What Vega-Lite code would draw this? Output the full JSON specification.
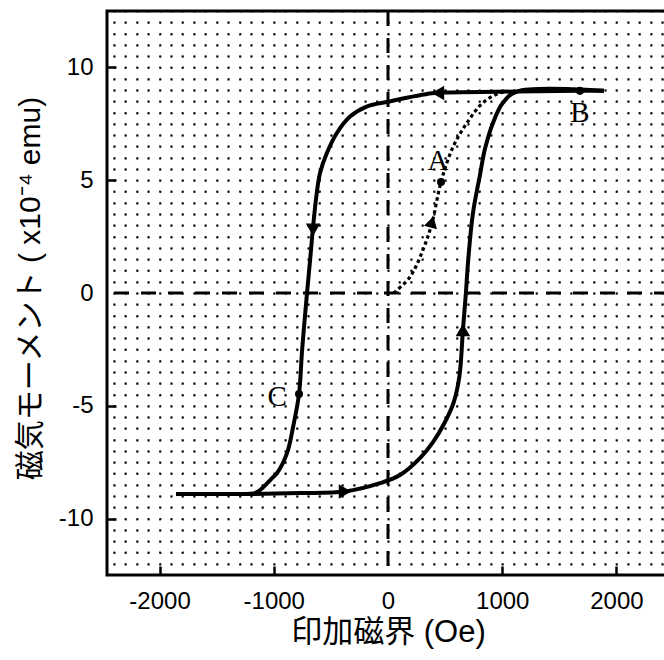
{
  "$schema": "https://vega.github.io/schema/vega-lite/v6.json",
  "width": 562,
  "height": 564,
  "autosize": {"type": "none"},
  "padding": {"left": 107, "top": 11, "right": 0, "bottom": 85},
  "background": "white",
  "config": {
    "view": {"stroke": "#000", "strokeWidth": 3},
    "font": "Liberation Sans",
    "axis": {"labelOverlap": false, "labelFlush": false, "labelBound": false}
  },
  "resolve": {"axis": {"x": "independent", "y": "independent"}},
  "datasets": {
    "loop": [
      {"branch": "down", "x": -1855, "y": -8.91},
      {"branch": "down", "x": -1295, "y": -8.91},
      {"branch": "down", "x": -1181, "y": -8.89},
      {"branch": "down", "x": -1137, "y": -8.8},
      {"branch": "down", "x": -1006, "y": -8.16},
      {"branch": "down", "x": -971, "y": -7.98},
      {"branch": "down", "x": -884, "y": -7.1},
      {"branch": "down", "x": -831, "y": -5.94},
      {"branch": "down", "x": -779, "y": -4.48},
      {"branch": "down", "x": -752, "y": -2.53},
      {"branch": "down", "x": -709, "y": 0},
      {"branch": "down", "x": -682, "y": 1.46},
      {"branch": "down", "x": -656, "y": 2.93},
      {"branch": "down", "x": -624, "y": 4.42},
      {"branch": "down", "x": -595, "y": 5.32},
      {"branch": "down", "x": -536, "y": 6.19},
      {"branch": "down", "x": -449, "y": 7.08},
      {"branch": "down", "x": -332, "y": 7.82},
      {"branch": "down", "x": -187, "y": 8.26},
      {"branch": "down", "x": 3, "y": 8.48},
      {"branch": "down", "x": 385, "y": 8.85},
      {"branch": "down", "x": 542, "y": 8.89},
      {"branch": "down", "x": 1129, "y": 8.93},
      {"branch": "down", "x": 1680, "y": 8.96},
      {"branch": "down", "x": 1890, "y": 8.96},
      {"branch": "up", "x": -1855, "y": -8.91},
      {"branch": "up", "x": -1181, "y": -8.91},
      {"branch": "up", "x": -770, "y": -8.87},
      {"branch": "up", "x": -376, "y": -8.8},
      {"branch": "up", "x": -70, "y": -8.43},
      {"branch": "up", "x": 105, "y": -8.07},
      {"branch": "up", "x": 280, "y": -7.32},
      {"branch": "up", "x": 394, "y": -6.61},
      {"branch": "up", "x": 499, "y": -5.72},
      {"branch": "up", "x": 575, "y": -4.85},
      {"branch": "up", "x": 625, "y": -3.7},
      {"branch": "up", "x": 656, "y": -1.64},
      {"branch": "up", "x": 682, "y": 0},
      {"branch": "up", "x": 700, "y": 1.33},
      {"branch": "up", "x": 744, "y": 3.55},
      {"branch": "up", "x": 805, "y": 5.23},
      {"branch": "up", "x": 849, "y": 6.39},
      {"branch": "up", "x": 919, "y": 7.54},
      {"branch": "up", "x": 1006, "y": 8.43},
      {"branch": "up", "x": 1129, "y": 8.93},
      {"branch": "up", "x": 1890, "y": 8.96}
    ],
    "initial": [
      {"x": 50, "y": 0},
      {"x": 192, "y": 0.71},
      {"x": 306, "y": 1.91},
      {"x": 385, "y": 3.1},
      {"x": 464, "y": 4.92},
      {"x": 569, "y": 6.47},
      {"x": 691, "y": 7.54},
      {"x": 831, "y": 8.43},
      {"x": 980, "y": 8.87},
      {"x": 1100, "y": 8.93}
    ],
    "arrows": [
      {"x": 437, "y": 8.87, "dir": "left"},
      {"x": -656, "y": 2.8, "dir": "down"},
      {"x": -376, "y": -8.8, "dir": "right"},
      {"x": 656, "y": -1.64, "dir": "up"}
    ],
    "arrowInit": [
      {"x": 385, "y": 3.15, "dir": "up"}
    ],
    "points": [
      {"name": "A", "x": 464, "y": 4.92, "lx": 437, "ly": 5.85},
      {"name": "B", "x": 1680, "y": 8.96, "lx": 1680, "ly": 7.98},
      {"name": "C", "x": -779, "y": -4.48, "lx": -971, "ly": -4.6}
    ],
    "zeroX": [{"x": 0}],
    "zeroY": [{"y": 0}]
  },
  "layer": [
    {
      "data": {"name": "zeroX"},
      "mark": {"type": "rule", "color": "#000", "strokeWidth": 3, "strokeDash": [15, 12]},
      "encoding": {
        "x": {
          "field": "x",
          "type": "quantitative",
          "scale": {"domain": [-2460, 2460], "nice": false, "zero": false},
          "axis": {
            "orient": "bottom",
            "title": null,
            "values": [-2400,-2300,-2200,-2100,-2000,-1900,-1800,-1700,-1600,-1500,-1400,-1300,-1200,-1100,-1000,-900,-800,-700,-600,-500,-400,-300,-200,-100,0,100,200,300,400,500,600,700,800,900,1000,1100,1200,1300,1400,1500,1600,1700,1800,1900,2000,2100,2200,2300,2400],
            "labels": false,
            "ticks": false,
            "domain": false,
            "grid": true,
            "gridDash": [2, 9.28],
            "gridDashOffset": 1,
            "gridColor": "#000",
            "gridOpacity": 0.8,
            "gridWidth": 1.8
          }
        }
      }
    },
    {
      "data": {"name": "zeroY"},
      "mark": {"type": "rule", "color": "#000", "strokeWidth": 3, "strokeDash": [15, 12]},
      "encoding": {
        "y": {
          "field": "y",
          "type": "quantitative",
          "scale": {"domain": [-12.5, 12.5], "nice": false, "zero": false},
          "axis": {
            "orient": "left",
            "title": null,
            "values": [-12,-11.5,-11,-10.5,-10,-9.5,-9,-8.5,-8,-7.5,-7,-6.5,-6,-5.5,-5,-4.5,-4,-3.5,-3,-2.5,-2,-1.5,-1,-0.5,0,0.5,1,1.5,2,2.5,3,3.5,4,4.5,5,5.5,6,6.5,7,7.5,8,8.5,9,9.5,10,10.5,11,11.5,12],
            "labels": false,
            "ticks": false,
            "domain": false,
            "grid": true,
            "gridDash": [2, 9.4228],
            "gridDashOffset": 5.566,
            "gridColor": "#000",
            "gridOpacity": 0.8,
            "gridWidth": 1.8
          }
        }
      }
    },
    {
      "data": {"name": "initial"},
      "mark": {"type": "line", "color": "#000", "strokeWidth": 3.2, "strokeDash": [3.5, 3], "interpolate": "catmull-rom"},
      "encoding": {
        "x": {
          "field": "x",
          "type": "quantitative",
          "axis": {
            "orient": "bottom",
            "title": "印加磁界 (Oe)",
            "values": [-2000, -1000, 0, 1000, 2000],
            "labelExpr": "'' + datum.value",
            "grid": false,
            "domain": false,
            "tickSize": -9,
            "tickWidth": 2.5,
            "tickColor": "#000",
            "tickOpacity": {"condition": {"test": "datum.value !== 0", "value": 1}, "value": 0},
            "labelFont": "Liberation Sans",
            "labelFontSize": 24,
            "labelColor": "#000",
            "labelPadding": 23,
            "titleFont": "Liberation Sans, Noto Sans CJK JP",
            "titleFontSize": 31,
            "titleFontWeight": "normal",
            "titleColor": "#000",
            "titleY": 57,
            "titleBaseline": "middle"
          }
        },
        "y": {
          "field": "y",
          "type": "quantitative",
          "axis": {
            "orient": "left",
            "title": "磁気モーメント ( x10⁻⁴ emu)",
            "values": [-10, -5, 0, 5, 10],
            "labelExpr": "'' + datum.value",
            "grid": false,
            "domain": false,
            "tickSize": -9,
            "tickWidth": 2.5,
            "tickColor": "#000",
            "tickOpacity": {"condition": {"test": "datum.value !== 0", "value": 1}, "value": 0},
            "labelFont": "Liberation Sans",
            "labelFontSize": 24,
            "labelColor": "#000",
            "labelPadding": 23,
            "titleFont": "Liberation Sans, Noto Sans CJK JP",
            "titleFontSize": 30,
            "titleFontWeight": "normal",
            "titleColor": "#000",
            "titleX": -77,
            "titleY": 277,
            "titleAngle": 270,
            "titleAlign": "center",
            "titleBaseline": "middle"
          }
        }
      }
    },
    {
      "data": {"name": "loop"},
      "mark": {"type": "line", "color": "#000", "strokeWidth": 4, "interpolate": "catmull-rom"},
      "encoding": {
        "x": {"field": "x", "type": "quantitative", "axis": null},
        "y": {"field": "y", "type": "quantitative", "axis": null},
        "detail": {"field": "branch"}
      }
    },
    {
      "data": {"name": "arrows"},
      "mark": {"type": "point", "filled": true, "color": "#000", "opacity": 1, "size": 210, "strokeWidth": 0},
      "encoding": {
        "x": {"field": "x", "type": "quantitative", "axis": null},
        "y": {"field": "y", "type": "quantitative", "axis": null},
        "shape": {
          "field": "dir",
          "type": "nominal",
          "scale": {"domain": ["left", "down", "right", "up"], "range": ["triangle-left", "triangle-down", "triangle-right", "triangle-up"]},
          "legend": null
        }
      }
    },
    {
      "data": {"name": "arrowInit"},
      "mark": {"type": "point", "filled": true, "color": "#000", "opacity": 1, "size": 180, "strokeWidth": 0, "shape": "triangle-up", "angle": 15},
      "encoding": {
        "x": {"field": "x", "type": "quantitative", "axis": null},
        "y": {"field": "y", "type": "quantitative", "axis": null}
      }
    },
    {
      "data": {"name": "points"},
      "mark": {"type": "point", "filled": true, "color": "#000", "opacity": 1, "size": 65, "shape": "circle"},
      "encoding": {
        "x": {"field": "x", "type": "quantitative", "axis": null},
        "y": {"field": "y", "type": "quantitative", "axis": null}
      }
    },
    {
      "data": {"name": "points"},
      "mark": {"type": "text", "font": "Liberation Serif", "fontSize": 29, "color": "#000", "align": "center", "baseline": "middle"},
      "encoding": {
        "x": {"field": "lx", "type": "quantitative", "axis": null},
        "y": {"field": "ly", "type": "quantitative", "axis": null},
        "text": {"field": "name"}
      }
    }
  ]
}
